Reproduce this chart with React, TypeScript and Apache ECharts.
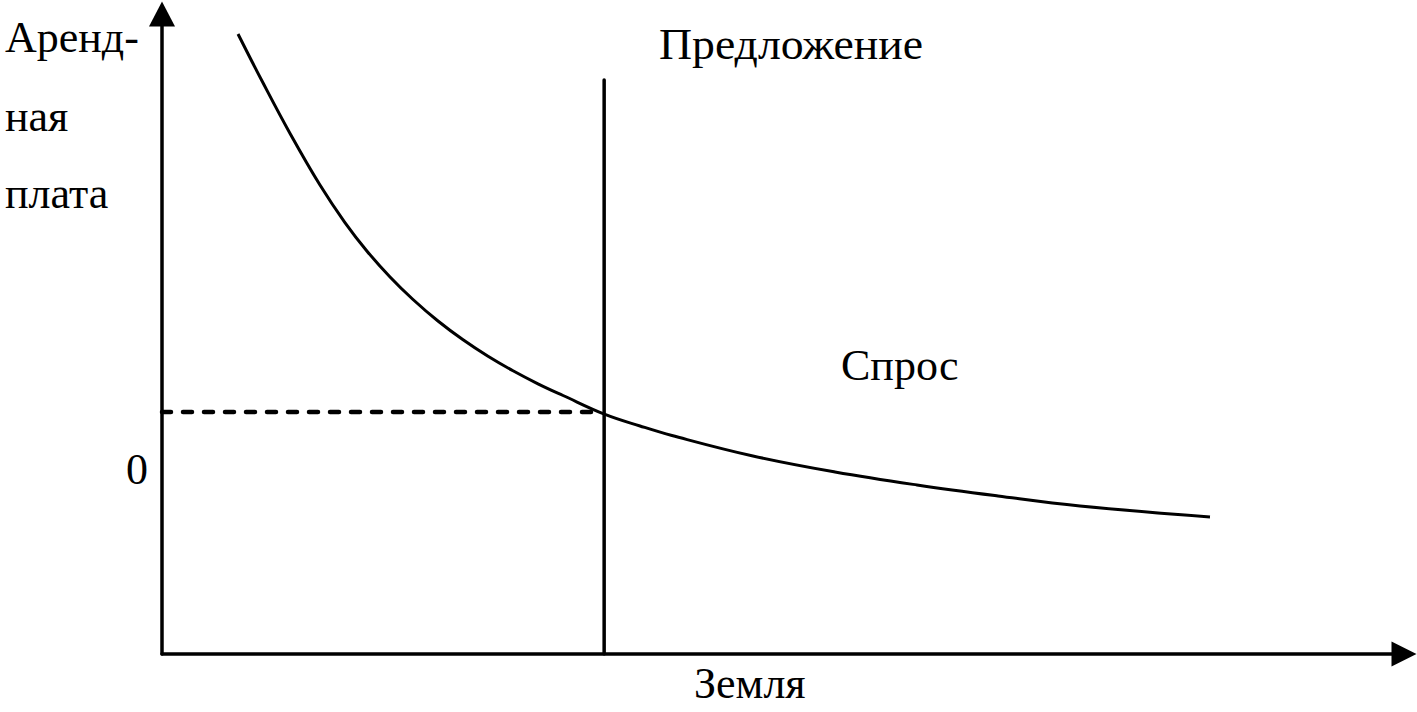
import React, { useEffect, useRef } from "react";
import * as echarts from "echarts";

// Schematic land-rent diagram (arbitrary units, 0..100 on both axes)
const demandX = [6.12, 8.13, 10.31, 12.72, 14.73, 16.51, 18.36, 20.21, 22.22, 24.24, 26.25, 28.26, 30.27, 32.29, 35.67, 38.49, 41.06, 47.58, 54.19, 60.79, 67.31, 73.91, 84.38];
const demandY = [96.88, 89.25, 81.33, 73.27, 67.41, 62.94, 58.91, 55.39, 52.03, 49.09, 46.52, 44.25, 42.22, 40.39, 37.44, 35.63, 34.14, 30.94, 28.44, 26.41, 24.69, 23.13, 21.41];
const supplyX = [35.6, 35.6];
const supplyY = [89.7, 0];
const rentX = [0, 35.0];
const rentY = [37.8, 37.8];

const yLabelLines = ["Аренд-", "ная", "плата"];
const zeroLabel = "0";
const supplyLabel = "Предложение";
const demandLabel = "Спрос";
const xLabel = "Земля";

const FONT = "'Liberation Serif', 'Times New Roman', serif";

const zip = (xs: number[], ys: number[]) => xs.map((x, i) => [x, ys[i]]);

export default function App() {
  const ref = useRef<HTMLDivElement>(null);
  useEffect(() => {
    if (!ref.current) return;
    const chart = echarts.init(ref.current, null, { renderer: "svg" });
    const txt = (text: string, x: number, y: number, scaleX = 1) => ({
      type: "text",
      x,
      y,
      scaleX,
      style: {
        text,
        fill: "#000",
        fontFamily: FONT,
        fontSize: 44,
        textAlign: "left",
        textVerticalAlign: "middle",
      },
    });
    const axisCommon = {
      type: "value",
      min: 0,
      max: 100,
      splitLine: { show: false },
      axisTick: { show: false },
      axisLabel: { show: false },
    };
    chart.setOption({
      animation: false,
      backgroundColor: "#fff",
      textStyle: { fontFamily: FONT },
      grid: { left: 162, right: 13, top: 14, bottom: 58, containLabel: false },
      xAxis: {
        ...axisCommon,
        axisLine: {
          show: true,
          onZero: false,
          symbol: ["none", "triangle"],
          symbolSize: [25, 25],
          lineStyle: { color: "#000", width: 3.5 },
        },
      },
      yAxis: {
        ...axisCommon,
        axisLine: {
          show: true,
          onZero: false,
          symbol: ["none", "triangle"],
          symbolSize: [26, 25],
          lineStyle: { color: "#000", width: 3.5 },
        },
      },
      series: [
        {
          name: "Спрос",
          type: "line",
          data: zip(demandX, demandY),
          smooth: 0.4,
          symbol: "none",
          lineStyle: { color: "#000", width: 3 },
        },
        {
          name: "Предложение",
          type: "line",
          data: zip(supplyX, supplyY),
          symbol: "none",
          lineStyle: { color: "#000", width: 3.5, cap: "round" },
        },
        {
          name: "Рента",
          type: "line",
          data: zip(rentX, rentY),
          symbol: "none",
          lineStyle: { color: "#000", width: 4.5, type: [9, 12], cap: "round" },
        },
      ],
      graphic: [
        txt(yLabelLines[0], 5, 37),
        txt(yLabelLines[1], 5, 116),
        txt(yLabelLines[2], 5, 193),
        txt(zeroLabel, 126, 469),
        txt(supplyLabel, 659, 44, 1.04),
        txt(demandLabel, 841, 365),
        txt(xLabel, 694, 683),
      ],
    });
    return () => chart.dispose();
  }, []);
  return (
    <div
      ref={ref}
      style={{ position: "fixed", left: 0, top: 0, width: 1417, height: 712 }}
    />
  );
}
